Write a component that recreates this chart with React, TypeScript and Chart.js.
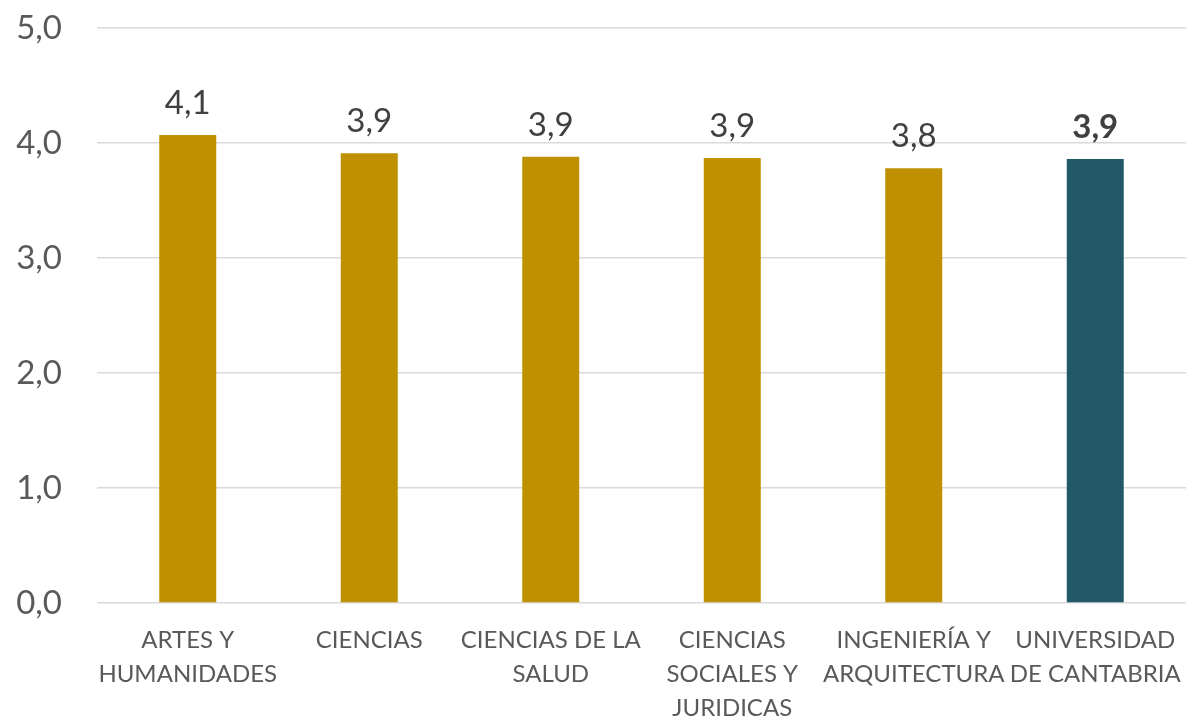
import React, { useEffect, useRef } from "react";
import { Chart, registerables } from "chart.js";

Chart.register(...registerables);

const categories: string[][] = [
  ["ARTES Y", "HUMANIDADES"],
  ["CIENCIAS"],
  ["CIENCIAS DE LA", "SALUD"],
  ["CIENCIAS", "SOCIALES Y", "JURIDICAS"],
  ["INGENIERÍA Y", "ARQUITECTURA"],
  ["UNIVERSIDAD", "DE CANTABRIA"],
];
const values: number[] = [4.07, 3.91, 3.88, 3.87, 3.78, 3.86];
const barColors: string[] = ["#BF9000", "#BF9000", "#BF9000", "#BF9000", "#BF9000", "#215968"];
const boldLabel: boolean[] = [false, false, false, false, false, true];

const FONT = "Lato, 'Open Sans', sans-serif";
const fmt = (v: number) => v.toFixed(1).replace(".", ",");

const labelPlugin = {
  id: "valueLabels",
  afterDatasetsDraw(chart: any) {
    const ctx = chart.ctx;
    const meta = chart.getDatasetMeta(0);
    ctx.save();
    ctx.textAlign = "center";
    ctx.textBaseline = "bottom";
    meta.data.forEach((bar: any, i: number) => {
      ctx.font = `${boldLabel[i] ? "bold " : ""}33px ${FONT}`;
      ctx.fillStyle = "#404040";
      ctx.fillText(fmt(values[i]), bar.x, bar.y - 15);
    });
    ctx.restore();
  },
};

export default function App() {
  const ref = useRef<HTMLCanvasElement>(null);
  useEffect(() => {
    document.body.style.margin = "0";
    const chart = new Chart(ref.current!, {
      type: "bar",
      data: {
        labels: categories,
        datasets: [
          {
            data: values,
            backgroundColor: barColors,
            categoryPercentage: 1,
            barPercentage: 0.314,
          },
        ],
      },
      options: {
        animation: false,
        responsive: false,
        maintainAspectRatio: false,
        layout: { padding: { top: 28, right: 0, bottom: 0, left: 0 } },
        plugins: { legend: { display: false }, tooltip: { enabled: false } },
        scales: {
          x: {
            grid: { display: false },
            border: { display: false },
            ticks: {
              color: "#595959",
              font: { family: FONT, size: 24, lineHeight: 1.42 },
              padding: 12,
              maxRotation: 0,
              autoSkip: false,
            },
            afterFit: (s: any) => {
              s.height = 115;
              s.paddingLeft = 0;
              s.paddingRight = 0;
            },
          },
          y: {
            min: 0,
            max: 5,
            grid: { color: "#d9d9d9", lineWidth: 1.5, drawTicks: false },
            border: { display: false },
            ticks: {
              stepSize: 1,
              color: "#595959",
              font: { family: FONT, size: 33 },
              padding: 35,
              callback: (v: any) => fmt(Number(v)),
            },
            afterFit: (s: any) => {
              s.width = 97;
              s.paddingTop = 0;
              s.paddingBottom = 0;
            },
          },
        },
      },
      plugins: [labelPlugin],
    });
    return () => chart.destroy();
  }, []);
  return (
    <div style={{ position: "fixed", left: 0, top: 0, width: 1186, height: 718, background: "#fff" }}>
      <canvas ref={ref} width={1186} height={718} style={{ width: 1186, height: 718 }} />
    </div>
  );
}
